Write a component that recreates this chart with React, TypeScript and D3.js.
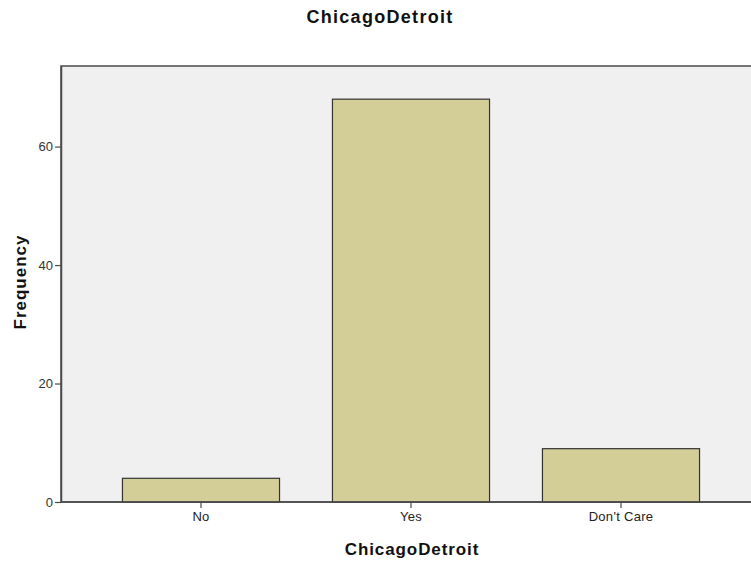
import { useEffect, useRef } from "react";
import * as d3 from "d3";

const categories = ["No", "Yes", "Don't Care"];
const frequencies = [4, 68, 9];
const yTicks = [0, 20, 40, 60];
const chartTitle = "ChicagoDetroit";
const xTitle = "ChicagoDetroit";
const yTitle = "Frequency";

export default function App() {
  const svgRef = useRef<SVGSVGElement>(null);

  useEffect(() => {
    if (!svgRef.current) return;
    const width = 751;
    const height = 561;
    const plot = { left: 61, top: 66, right: 762, bottom: 502 };
    const font = "Arial, 'Liberation Sans', sans-serif";

    const svg = d3.select(svgRef.current);
    svg.selectAll("*").remove();
    svg.attr("width", width).attr("height", height);

    const y = d3.scaleLinear().domain([0, 73.6]).range([plot.bottom, plot.top]);
    const x = d3
      .scaleBand()
      .domain(categories)
      .range([96, 726])
      .paddingInner(0.252)
      .paddingOuter(0.126);

    // plot background + frame
    svg
      .append("rect")
      .attr("x", plot.left)
      .attr("y", plot.top)
      .attr("width", plot.right - plot.left)
      .attr("height", plot.bottom - plot.top)
      .attr("fill", "#f0f0f0")
      .attr("stroke", "#4a4a4a")
      .attr("stroke-width", 1.5);

    svg
      .append("g")
      .selectAll("rect")
      .data(frequencies)
      .join("rect")
      .attr("x", (_, i) => x(categories[i]) ?? 0)
      .attr("y", (d) => y(d))
      .attr("width", x.bandwidth())
      .attr("height", (d) => y(0) - y(d))
      .attr("fill", "#d3ce98")
      .attr("stroke", "#333")
      .attr("stroke-width", 1.2);

    const yAxis = svg
      .append("g")
      .attr("transform", `translate(${plot.left},0)`)
      .call(d3.axisLeft(y).tickValues(yTicks).tickSize(6).tickPadding(2).tickSizeOuter(0));
    yAxis.select(".domain").attr("stroke", "#4a4a4a").attr("stroke-width", 1.5);
    yAxis.selectAll(".tick line").attr("stroke", "#4a4a4a").attr("stroke-width", 1.2);
    yAxis
      .selectAll(".tick text")
      .attr("fill", "#333")
      .style("font-size", "13px")
      .style("font-family", font);

    const xAxis = svg
      .append("g")
      .attr("transform", `translate(0,${plot.bottom})`)
      .call(d3.axisBottom(x).tickSize(6).tickPadding(4).tickSizeOuter(0));
    xAxis.select(".domain").remove();
    xAxis.selectAll(".tick line").attr("stroke", "#4a4a4a").attr("stroke-width", 1.2);
    xAxis
      .selectAll(".tick text")
      .attr("fill", "#222")
      .style("font-size", "13px")
      .style("letter-spacing", "0.3px")
      .style("font-family", font);
    svg
      .append("line")
      .attr("x1", plot.left)
      .attr("x2", plot.right)
      .attr("y1", plot.bottom)
      .attr("y2", plot.bottom)
      .attr("stroke", "#4a4a4a")
      .attr("stroke-width", 1.5);

    svg
      .append("text")
      .attr("x", 380)
      .attr("y", 23)
      .attr("text-anchor", "middle")
      .style("font-size", "18px")
      .style("font-weight", "bold")
      .style("letter-spacing", "1.3px")
      .style("font-family", font)
      .attr("fill", "#111")
      .text(chartTitle);

    svg
      .append("text")
      .attr("x", 412)
      .attr("y", 555)
      .attr("text-anchor", "middle")
      .style("font-size", "17px")
      .style("font-weight", "bold")
      .style("letter-spacing", "0.9px")
      .style("font-family", font)
      .attr("fill", "#111")
      .text(xTitle);

    svg
      .append("text")
      .attr("transform", `translate(26,282) rotate(-90)`)
      .attr("text-anchor", "middle")
      .style("font-size", "17px")
      .style("font-weight", "bold")
      .style("letter-spacing", "1px")
      .style("font-family", font)
      .attr("fill", "#111")
      .text(yTitle);
  }, []);

  return (
    <svg
      ref={svgRef}
      style={{ position: "absolute", left: 0, top: 0, display: "block", background: "#fff" }}
    />
  );
}
